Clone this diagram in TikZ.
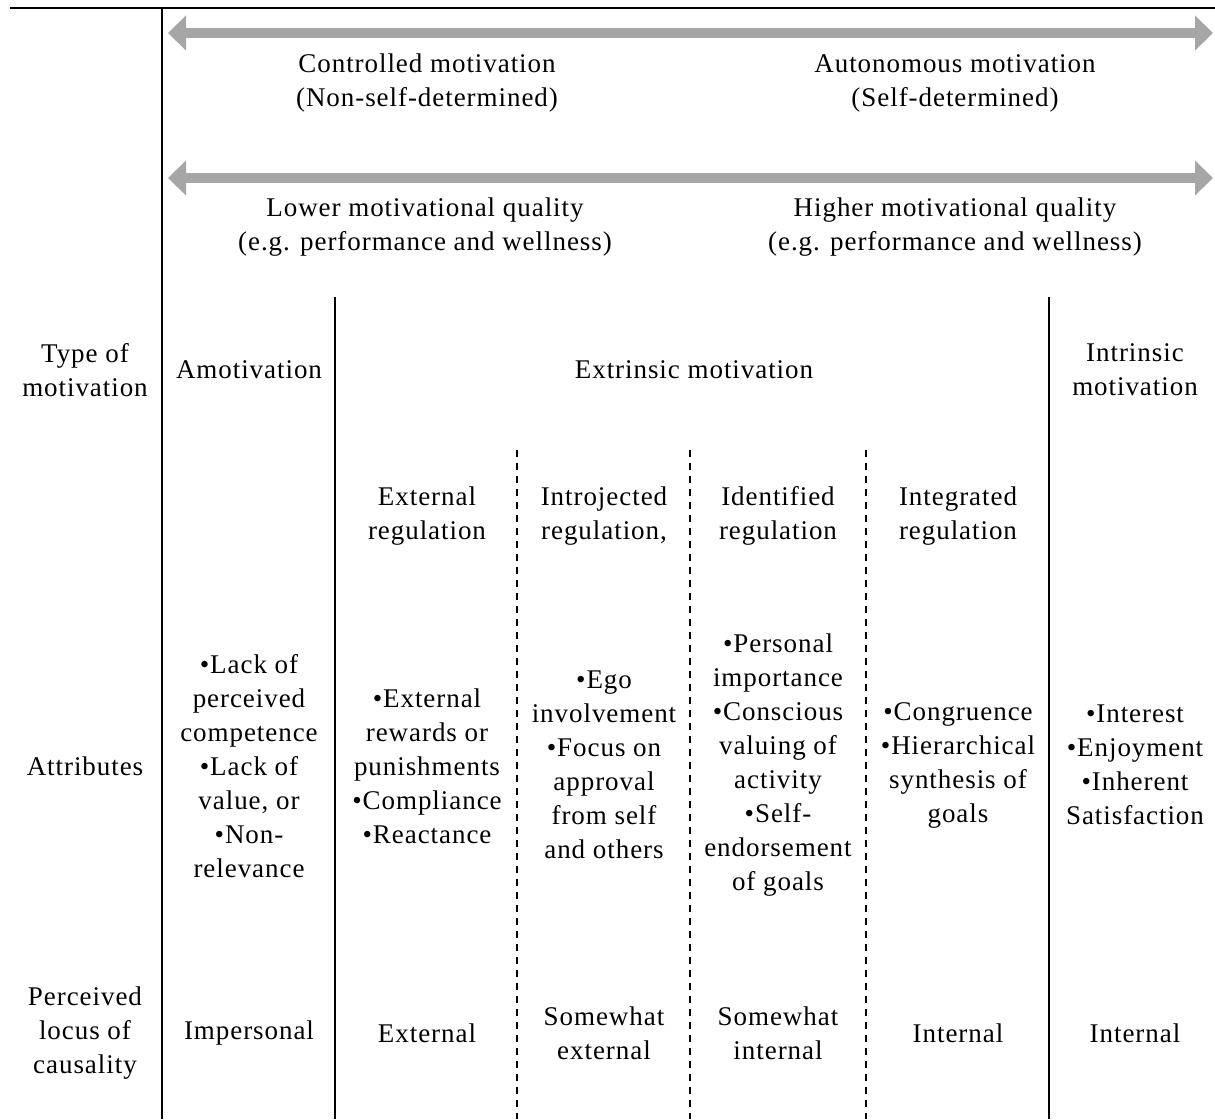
\documentclass[tikz,border=0pt]{standalone}
\usepackage{fontspec}
\setmainfont[LetterSpace=3.5]{Liberation Serif}
\usetikzlibrary{arrows.meta}
\definecolor{ArrowGray}{RGB}{166,166,166}

\begin{document}
\begin{tikzpicture}[x=1pt,y=-1pt,
  every node/.style={align=center,font=\fontsize{27}{34}\selectfont,inner sep=0pt},
  rule/.style={line width=1.4pt},
  dashrule/.style={line width=1.4pt,dash pattern=on 7pt off 6pt},
  scalearrow/.style={line width=10pt,ArrowGray,
    {Triangle[length=18pt,width=34pt]}-{Triangle[length=18pt,width=34pt]}}]
\useasboundingbox (0,0) rectangle (1215,1119);
% frame lines
\draw[rule] (10,8) -- (1215,8);
\draw[rule] (162,8) -- (162,1119);
\draw[rule] (335,297) -- (335,1119);
\draw[rule] (1049,297) -- (1049,1119);
\foreach \x in {517,690,866} \draw[dashrule] (\x,450) -- (\x,1119);
% continuum arrows
\coordinate (ctl) at (168,33);  \coordinate (ctr) at (1213,33);
\coordinate (qul) at (168,178); \coordinate (qur) at (1213,178);
\draw[scalearrow] (ctl) -- (ctr);
\draw[scalearrow] (qul) -- (qur);
\node (ctrl) at (427,83) {Controlled motivation\\(Non-self-determined)};
\node (auto) at (955,83) {Autonomous motivation\\(Self-determined)};
\node (lowq) at (425,227) {Lower motivational quality\\(e.g. performance and wellness)};
\node (higq) at (955,227) {Higher motivational quality\\(e.g. performance and wellness)};
% row headings
\node (htype) at (85,370) {Type of\\motivation};
\node (hattr) at (85,766) {Attributes};
\node (hloc)  at (85,1033) {Perceived\\locus of\\causality};
% type of motivation
\node (amot) at (249,370) {Amotivation};
\node (extr) at (694,370) {Extrinsic motivation};
\node (intr) at (1135,370) {Intrinsic\\motivation};
\node (rext) at (427,516) {External\\regulation};
\node (rint) at (604,516) {Introjected\\regulation,};
\node (ride) at (778,516) {Identified\\regulation};
\node (rgra) at (958,516) {Integrated\\regulation};
% attributes
\node (aamot) at (249,766) {•Lack of\\perceived\\competence\\•Lack of\\value, or\\•Non-\\relevance};
\node (aext)  at (427,766) {•External\\rewards or\\punishments\\•Compliance\\•Reactance};
\node (aint)  at (604,765) {•Ego\\involvement\\•Focus on\\approval\\from self\\and others};
\node (aide)  at (778,765) {•Personal\\importance\\•Conscious\\valuing of\\activity\\•Self-\\endorsement\\of goals};
\node (agra)  at (958,765) {•Congruence\\•Hierarchical\\synthesis of\\goals};
\node (aintr) at (1135,765) {•Interest\\•Enjoyment\\•Inherent\\Satisfaction};
% locus of causality
\node (lamot) at (249,1033) {Impersonal};
\node (lext)  at (427,1033) {External};
\node (lint)  at (604,1033) {Somewhat\\external};
\node (lide)  at (778,1033) {Somewhat\\internal};
\node (lgra)  at (958,1033) {Internal};
\node (lintr) at (1135,1033) {Internal};
\end{tikzpicture}
\end{document}
